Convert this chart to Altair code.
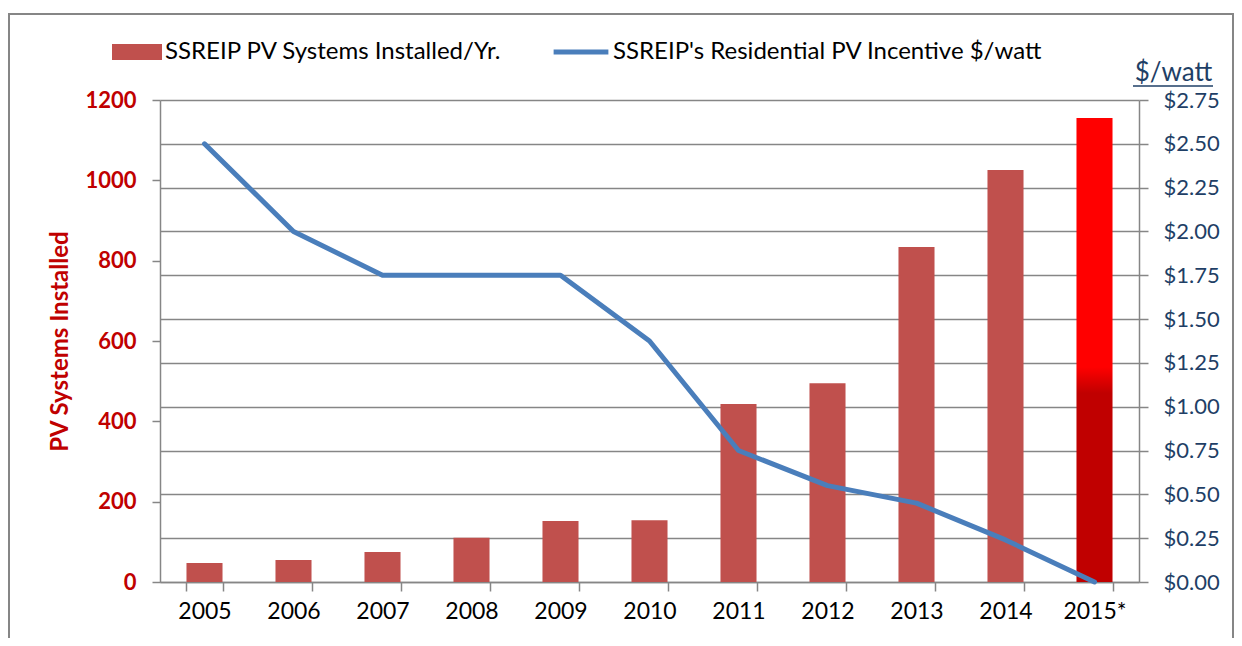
import altair as alt
import pandas as pd

years = ["2005", "2006", "2007", "2008", "2009", "2010", "2011", "2012", "2013", "2014", "2015*"]
installed = [47, 55, 75, 110, 152, 154, 443, 495, 834, 1026, 1155]
incentive = [2.50, 2.00, 1.75, 1.75, 1.75, 1.375, 0.75, 0.55, 0.45, 0.24, 0.0]
left_ticks = [0, 200, 400, 600, 800, 1000, 1200]
right_ticks = [0, 0.25, 0.5, 0.75, 1.0, 1.25, 1.5, 1.75, 2.0, 2.25, 2.5, 2.75]

bar_name = "SSREIP PV Systems Installed/Yr."
line_name = "SSREIP's Residential PV Incentive $/watt"

df = pd.DataFrame({"year": years, "installed": installed, "incentive": incentive,
                   "bar_series": bar_name, "line_series": line_name})

FONT = "Lato"
GRAY = "#868686"
RED = "#C00000"
NAVY = "#1F3F66"

xscale = alt.Scale(domain=years, paddingInner=0.595, paddingOuter=0.2975)
xaxis = alt.Axis(title=None, labelAngle=0, labelFontSize=23, labelColor="black", labelFont=FONT,
                 tickBand="extent", tickSize=9, tickColor=GRAY, tickWidth=1.5,
                 domainColor=GRAY, domainWidth=1.5, labelPadding=9)

yleft_scale = alt.Scale(domain=[0, 1200], nice=False)
yleft_axis = alt.Axis(orient="left", values=left_ticks, format="d", grid=False, labelColor=RED,
                      labelFontWeight="bold", labelFontSize=22, labelFont=FONT, labelPadding=16, tickSize=8,
                      tickColor=GRAY, tickWidth=1.5, domainColor=GRAY, domainWidth=1.5,
                      title="PV Systems Installed", titleColor=RED, titleFontSize=24, titleFontWeight="bold",
                      titleFont=FONT, titleAngle=-90, titleX=-100, titleY=241, titleAlign="center",
                      titleBaseline="middle")

base = alt.Chart(df)

bars = base.transform_filter(alt.datum.year != "2015*").mark_bar().encode(
    x=alt.X("year:N", scale=xscale, axis=xaxis, sort=years),
    y=alt.Y("installed:Q", scale=yleft_scale, axis=yleft_axis),
    fill=alt.Fill("bar_series:N", scale=alt.Scale(range=["#C0504D"]),
                  legend=alt.Legend(title=None, orient="none", legendX=-48, legendY=-73,
                                    symbolType="M-1,-0.32H1V0.32H-1Z", symbolSize=2500,
                                    symbolStrokeWidth=0, labelFontSize=24, labelFont=FONT,
                                    labelColor="black", labelOffset=3, labelLimit=700)),
)

grad = alt.Gradient(gradient="linear", x1=0, x2=0, y1=0, y2=1,
                    stops=[alt.GradientStop(color="#FF0000", offset=0),
                           alt.GradientStop(color="#FF0000", offset=0.537),
                           alt.GradientStop(color=RED, offset=0.593),
                           alt.GradientStop(color=RED, offset=1)])

bar2015 = base.transform_filter(alt.datum.year == "2015*").mark_bar(color=grad).encode(
    x=alt.X("year:N", scale=xscale, axis=xaxis, sort=years),
    y=alt.Y("installed:Q", scale=yleft_scale, axis=yleft_axis),
)

left = alt.layer(bars, bar2015)

line = base.mark_line(strokeWidth=5, strokeCap="round", strokeJoin="round").encode(
    x=alt.X("year:N", scale=xscale, axis=xaxis, sort=years),
    y=alt.Y("incentive:Q", scale=alt.Scale(domain=[0, 2.75], nice=False),
            axis=alt.Axis(orient="right", values=right_ticks, format="$.2f", grid=True, gridColor=GRAY,
                          gridWidth=1.5, labelFontSize=22, labelColor=NAVY, labelFont=FONT, labelPadding=15,
                          tickSize=9, tickColor=GRAY, tickWidth=1.5, domainColor=GRAY, domainWidth=1.5,
                          title="$/watt", titleAngle=0, titleX=34, titleY=-28, titleAlign="center",
                          titleBaseline="middle", titleFontSize=26, titleFontWeight="normal",
                          titleColor=NAVY, titleFont=FONT)),
    stroke=alt.Stroke("line_series:N", scale=alt.Scale(range=["#4A7EBB"]),
                      legend=alt.Legend(title=None, orient="none", legendX=391, legendY=-78,
                                        symbolType="stroke", symbolSize=3000, symbolStrokeWidth=5,
                                        labelFontSize=24, labelFont=FONT, labelColor="black",
                                        labelOffset=2, labelLimit=700)),
)

underline = alt.Chart(pd.DataFrame({"k": [0]})).mark_rule(color=NAVY, strokeWidth=1.5).encode(
    x=alt.value(973), x2=alt.value(1053), y=alt.value(-14)
)

border = alt.Chart(pd.DataFrame({"k": [0]})).mark_rect(fill=None, stroke=GRAY, strokeWidth=2).encode(
    x=alt.value(-151), x2=alt.value(1073), y=alt.value(-86), y2=alt.value(600)
)

chart = alt.layer(border, left, line, underline).resolve_scale(y="independent", fill="independent",
                                                              stroke="independent").properties(
    width=979, height=482,
    autosize=alt.AutoSizeParams(type="none"),
    padding={"left": 152, "top": 92, "right": 95, "bottom": 56},
).configure_view(stroke=None)

chart.save("out.html", embed_options={"renderer": "svg", "actions": False})
